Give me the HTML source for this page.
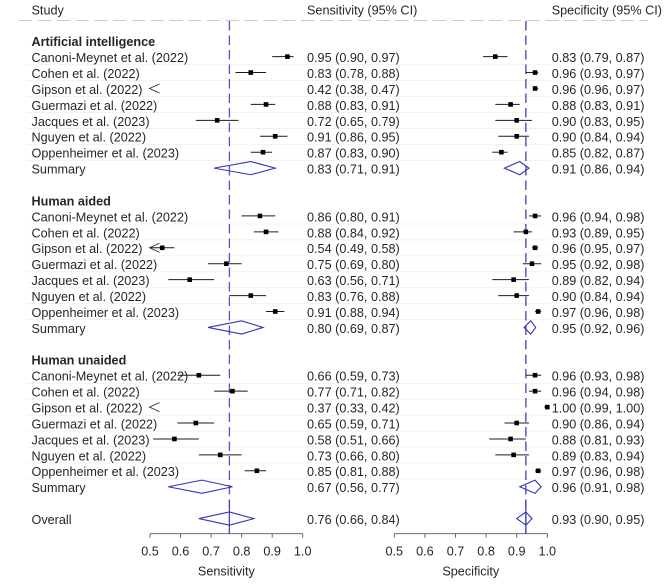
<!DOCTYPE html>
<html lang="en">
<head>
<meta charset="utf-8">
<title>Forest plot of sensitivity and specificity</title>
<style>
html,body{margin:0;padding:0;background:#fff;width:669px;height:586px;overflow:hidden}
svg{display:block;filter:blur(0.35px)}
text{font-family:"Liberation Sans",Arial,sans-serif;font-size:12.65px;fill:#262626}
</style>
</head>
<body>
<svg id="chart" width="669" height="586" viewBox="0 0 669 586" xmlns="http://www.w3.org/2000/svg"></svg>
<script>
// ---- Data ----
const groupNames = ["Artificial intelligence", "Human aided", "Human unaided"];
const studyNames = ["Canoni-Meynet et al. (2022)", "Cohen et al. (2022)", "Gipson et al. (2022)", "Guermazi et al. (2022)", "Jacques et al. (2023)", "Nguyen et al. (2022)", "Oppenheimer et al. (2023)", "Summary"];
const overallName = "Overall";
const axisTicks = [0.5, 0.6, 0.7, 0.8, 0.9, 1.0];

const aiSens = [0.95, 0.83, 0.42, 0.88, 0.72, 0.91, 0.87, 0.83];
const aiSensLow = [0.90, 0.78, 0.38, 0.83, 0.65, 0.86, 0.83, 0.71];
const aiSensHigh = [0.97, 0.88, 0.47, 0.91, 0.79, 0.95, 0.90, 0.91];
const aiSpec = [0.83, 0.96, 0.96, 0.88, 0.90, 0.90, 0.85, 0.91];
const aiSpecLow = [0.79, 0.93, 0.96, 0.83, 0.83, 0.84, 0.82, 0.86];
const aiSpecHigh = [0.87, 0.97, 0.97, 0.91, 0.95, 0.94, 0.87, 0.94];

const aidedSens = [0.86, 0.88, 0.54, 0.75, 0.63, 0.83, 0.91, 0.80];
const aidedSensLow = [0.80, 0.84, 0.49, 0.69, 0.56, 0.76, 0.88, 0.69];
const aidedSensHigh = [0.91, 0.92, 0.58, 0.80, 0.71, 0.88, 0.94, 0.87];
const aidedSpec = [0.96, 0.93, 0.96, 0.95, 0.89, 0.90, 0.97, 0.946];
const aidedSpecLow = [0.94, 0.89, 0.95, 0.92, 0.82, 0.84, 0.96, 0.924];
const aidedSpecHigh = [0.98, 0.95, 0.97, 0.98, 0.94, 0.94, 0.98, 0.962];

const unaidedSens = [0.66, 0.77, 0.37, 0.65, 0.58, 0.73, 0.85, 0.67];
const unaidedSensLow = [0.59, 0.71, 0.33, 0.59, 0.51, 0.66, 0.81, 0.56];
const unaidedSensHigh = [0.73, 0.82, 0.42, 0.71, 0.66, 0.80, 0.88, 0.77];
const unaidedSpec = [0.96, 0.96, 1.00, 0.90, 0.88, 0.89, 0.97, 0.96];
const unaidedSpecLow = [0.93, 0.94, 0.99, 0.86, 0.81, 0.83, 0.96, 0.91];
const unaidedSpecHigh = [0.98, 0.98, 1.00, 0.94, 0.93, 0.94, 0.98, 0.98];

const overallSens = [0.76, 0.66, 0.84];
const overallSpec = [0.93, 0.90, 0.95];

// ---- Scales ----
const NS = "http://www.w3.org/2000/svg";
const svg = document.getElementById("chart");
const xSens = v => 150 + (v - 0.5) * 305.4;
const xSpec = v => 394.3 + (v - 0.5) * 306;
const rowY = i => 41.5 + i * 15.93;
const AXIS_Y = 533.7;

function line(x1, y1, x2, y2, stroke, w, dash) {
  const el = document.createElementNS(NS, "line");
  el.setAttribute("x1", x1);
  el.setAttribute("y1", y1);
  el.setAttribute("x2", x2);
  el.setAttribute("y2", y2);
  el.setAttribute("stroke", stroke);
  el.setAttribute("stroke-width", w);
  if (dash) el.setAttribute("stroke-dasharray", dash);
  svg.appendChild(el);
  return el;
}
function label(x, y, str, bold, anchor) {
  const el = document.createElementNS(NS, "text");
  el.setAttribute("x", x);
  el.setAttribute("y", y);
  if (bold) el.setAttribute("font-weight", "bold");
  if (anchor) el.setAttribute("text-anchor", anchor);
  el.textContent = str;
  svg.appendChild(el);
  return el;
}
const fmt = (p, l, h) => p.toFixed(2) + " (" + l.toFixed(2) + ", " + h.toFixed(2) + ")";

function drawStudy(xf, p, l, h, y) {
  const my = y - 0.8;
  const min = 0.5;
  if (h >= min) {
    const ci = line(xf(Math.max(l, min)), my, xf(h), my, "#1c1c1c", 1);
    
    
  }
  if (l < min) {
    const arrow = document.createElementNS(NS, "polyline");
    const tip = xf(min) - 0.5;
    arrow.setAttribute("points", (tip + 10) + "," + (my - 4.5) + " " + tip + "," + my + " " + (tip + 10) + "," + (my + 4.5));
    arrow.setAttribute("fill", "none");
    arrow.setAttribute("stroke", "#222");
    arrow.setAttribute("stroke-width", "0.8");
    
    
    svg.appendChild(arrow);
  }
  if (p >= min) {
    const sq = document.createElementNS(NS, "rect");
    sq.setAttribute("x", xf(p) - 2.3);
    sq.setAttribute("y", my - 2.3);
    sq.setAttribute("width", 4.6);
    sq.setAttribute("height", 4.6);
    sq.setAttribute("fill", "#000");
    
    
    svg.appendChild(sq);
  }
}
function drawDiamond(xf, p, l, h, y, name) {
  const my = y - 0.8;
  const d = document.createElementNS(NS, "polygon");
  d.setAttribute("points", xf(l) + "," + my + " " + xf(p) + "," + (my - 6.6) + " " + xf(h) + "," + my + " " + xf(p) + "," + (my + 6.6));
  d.setAttribute("fill", "none");
  d.setAttribute("stroke", "#3434b4");
  d.setAttribute("stroke-width", "1.1");
  
  
  svg.appendChild(d);
}

// ---- Header ----
const hStudy = label(31.5, 14.3, "Study");


const hSens = label(307, 14.3, "Sensitivity (95% CI)");


const hSpec = label(551.7, 14.3, "Specificity (95% CI)");


const hRule = line(19, 20.6, 648, 20.6, "#c4c4c4", 0.9, "13.5 5.3");



// ---- Row separators ----
const groupStarts = [0, 10, 20];
groupStarts.forEach(start => {
  for (let s = 1; s <= 7; s++) {
    const sep = line(27, rowY(start + s) + 7.3, 550, rowY(start + s) + 7.3, "#efefef", 0.8);
    
    
  }
});

// ---- Reference lines (overall estimates) ----
const refSens = line(xSens(overallSens[0]), 21, xSens(overallSens[0]), AXIS_Y, "#5454c4", 1.3, "9.5 5");


const refSpec = line(xSpec(overallSpec[0]), 21, xSpec(overallSpec[0]), AXIS_Y, "#3232b0", 1.2, "9.5 5");


const refSensLow = line(xSens(overallSens[0]), 500, xSens(overallSens[0]), AXIS_Y, "#4545bc", 1.2);


const refSpecLow = line(xSpec(overallSpec[0]), 500, xSpec(overallSpec[0]), AXIS_Y, "#3232b0", 1.2);



// ---- Groups ----
const groupSeries = [
  [aiSens, aiSensLow, aiSensHigh, aiSpec, aiSpecLow, aiSpecHigh],
  [aidedSens, aidedSensLow, aidedSensHigh, aidedSpec, aidedSpecLow, aidedSpecHigh],
  [unaidedSens, unaidedSensLow, unaidedSensHigh, unaidedSpec, unaidedSpecLow, unaidedSpecHigh]
];
groupNames.forEach((g, gi) => {
  const start = groupStarts[gi];
  const head = label(31.5, rowY(start) + 4.6, g, true);
  
  
  const [sp, sl, sh, cp, cl, ch] = groupSeries[gi];
  studyNames.forEach((name, i) => {
    const y = rowY(start + i + 1);
    const base = y + 4.6;
    const t = label(31.5, base, name);
    
    
    const a = label(307, base, fmt(sp[i], sl[i], sh[i]));
    
    
    const b = label(551.7, base, fmt(cp[i], cl[i], ch[i]));
    
    
    if (i === 7) {
      drawDiamond(xSens, sp[i], sl[i], sh[i], y, 'sensitivity-summary-diamond');
      drawDiamond(xSpec, cp[i], cl[i], ch[i], y, 'specificity-summary-diamond');
    } else {
      drawStudy(xSens, sp[i], sl[i], sh[i], y);
      drawStudy(xSpec, cp[i], cl[i], ch[i], y);
    }
  });
});

// ---- Overall ----
const oy = rowY(30);
const oLabel = label(31.5, oy + 4.6, overallName);


const oSens = label(307, oy + 4.6, fmt(overallSens[0], overallSens[1], overallSens[2]));


const oSpec = label(551.7, oy + 4.6, fmt(overallSpec[0], overallSpec[1], overallSpec[2]));


drawDiamond(xSens, overallSens[0], overallSens[1], overallSens[2], oy, 'overall-sensitivity-diamond');
drawDiamond(xSpec, overallSpec[0], overallSpec[1], overallSpec[2], oy, 'overall-specificity-diamond');

// ---- Axes ----
[[xSens, "Sensitivity", "sensitivity"], [xSpec, "Specificity", "specificity"]].forEach(([xf, title, key]) => {
  const ax = line(xf(axisTicks[0]), AXIS_Y, xf(axisTicks[axisTicks.length - 1]), AXIS_Y, "#555", 0.9);
  
  
  axisTicks.forEach(tv => {
    const tick = line(xf(tv), AXIS_Y, xf(tv), AXIS_Y + 4, "#555", 0.9);
    
    
    const tl = label(xf(tv), 555.6, tv.toFixed(1), false, "middle");
    
    
  });
  const at = label((xf(axisTicks[0]) + xf(axisTicks[axisTicks.length - 1])) / 2, 575.5, title, false, "middle");
  
  
});
</script>
</body>
</html>
